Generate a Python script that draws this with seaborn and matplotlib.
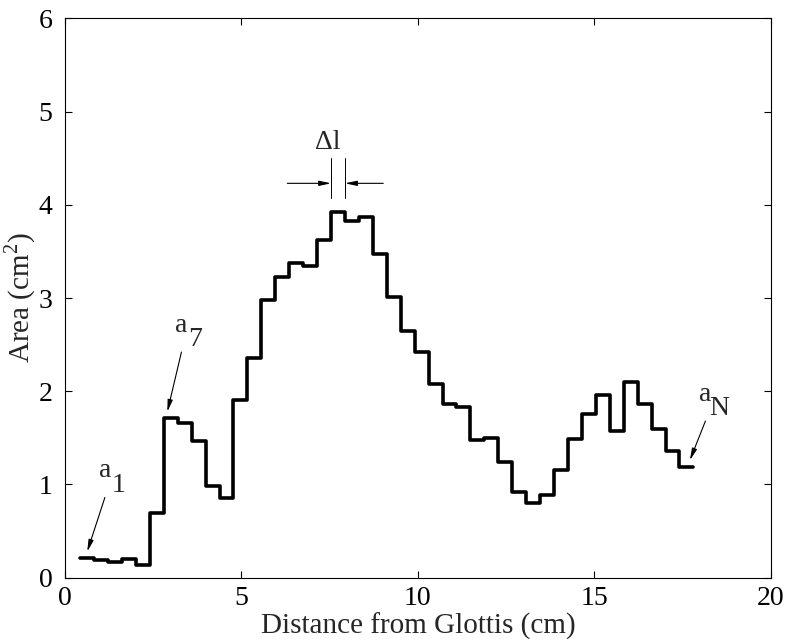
import numpy as np
import pandas as pd
import matplotlib
matplotlib.use('Agg')
import matplotlib.pyplot as plt
import seaborn as sns

# cross-sectional area of each tube section, glottis -> lips (cm^2)
areas = [0.21, 0.19, 0.17, 0.20, 0.14, 0.69, 1.71, 1.66, 1.47, 0.98,
         0.86, 1.91, 2.36, 2.98, 3.23, 3.38, 3.34, 3.62, 3.92, 3.83,
         3.87, 3.47, 3.01, 2.65, 2.42, 2.08, 1.86, 1.83, 1.48, 1.50,
         1.24, 0.92, 0.80, 0.89, 1.15, 1.49, 1.76, 1.96, 1.57, 2.10,
         1.86, 1.60, 1.36, 1.19]
start_cm = 0.43      # first section starts here
dl = 0.395           # section length (cm)
delta_section = 19   # section used to show delta l

x_ticks = [0, 5, 10, 15, 20]
y_ticks = [0, 1, 2, 3, 4, 5, 6]

# edges of the sections, last value repeated for steps-post
edges = start_cm + dl * np.arange(len(areas) + 1)
df = pd.DataFrame({'dist': edges, 'area': areas + [areas[-1]]})

sns.set_style('ticks')
plt.rcParams['font.family'] = ['Liberation Serif', 'DejaVu Serif']
plt.rcParams['mathtext.fontset'] = 'custom'
plt.rcParams['mathtext.rm'] = 'Liberation Serif'
FS = 20

fig = plt.figure(figsize=(7.85, 6.39), dpi=100)
ax = fig.add_axes([65 / 785, 1 - 577.7 / 639, 705.7 / 785, 559.4 / 639])

sns.lineplot(data=df, x='dist', y='area', drawstyle='steps-post',
             estimator=None, sort=False, color='black', lw=2.6, ax=ax)

ax.set_xlim(0, 20)
ax.set_ylim(0, 6)
ax.set_xticks(x_ticks)
ax.set_yticks(y_ticks)
ax.tick_params(direction='in', length=5, width=0.8, top=True, right=True,
               labelsize=FS, colors='black')
ax.tick_params(axis='x', pad=6)
ax.tick_params(axis='y', pad=9)
for s in ax.spines.values():
    s.set_linewidth(0.8)
    s.set_color('black')

ax.set_xlabel('Distance from Glottis (cm)', fontsize=FS + 1, va='baseline')
ax.xaxis.set_label_coords(0.5, -0.1)
ax.set_ylabel('Area (cm$^2$)', fontsize=FS + 1, va='center')
ax.yaxis.set_label_coords(-0.064, 0.5)

arrow = dict(arrowstyle='-|>,head_width=0.15,head_length=0.7', color='black',
             lw=0.8, shrinkA=0, shrinkB=0)

def label_a(sub, x, y, tip):
    ax.annotate('', xy=tip, xytext=(x, y - 0.22), arrowprops=arrow)
    ax.text(x, y, 'a', ha='center', va='baseline', fontsize=FS)
    ax.text(x + 0.38, y - 0.16, sub, ha='center', va='baseline', fontsize=FS)

# a_1 -> left end of first section
label_a('1', 1.13, 1.08, (edges[0] + 0.2, areas[0] + 0.07))
# a_7 -> top of seventh section
label_a('7', 3.3, 2.64, (edges[6] + 0.1, areas[6] + 0.07))
# a_N -> right end of last section
label_a('N', 18.15, 1.9, (edges[-1] - 0.1, areas[-1] + 0.07))

# delta l marker over one section
x0, x1 = edges[delta_section - 1], edges[delta_section]
ax.plot([x0, x0], [4.07, 4.5], color='black', lw=0.7)
ax.plot([x1, x1], [4.07, 4.5], color='black', lw=0.7)
ax.annotate('', xy=(x0, 4.23), xytext=(6.3, 4.23), arrowprops=arrow)
ax.annotate('', xy=(x1, 4.23), xytext=(9.02, 4.23), arrowprops=arrow)
ax.text((x0 + x1) / 2 - 0.3, 4.6, '\u0394l', ha='center', va='baseline', fontsize=FS)

fig.savefig('out.png', dpi=100)
